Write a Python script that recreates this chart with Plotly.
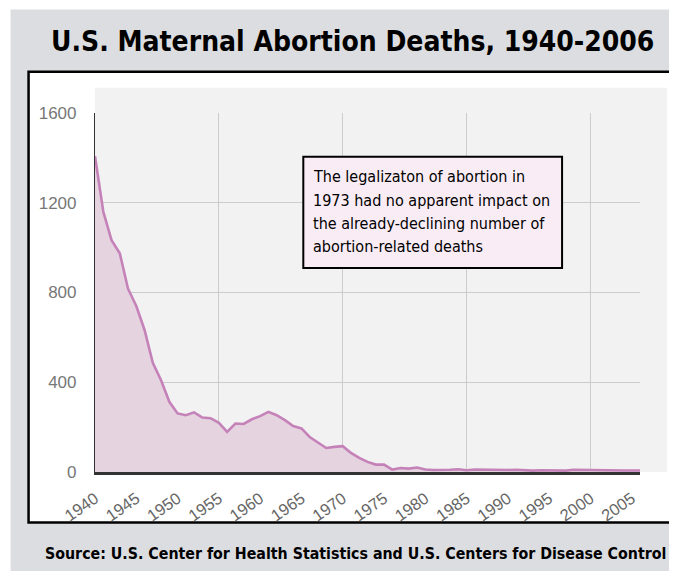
import plotly.graph_objects as go

years = list(range(1940, 2007))
deaths = [1407, 1161, 1033, 975, 817, 740, 633, 487, 409, 313,
          261, 253, 266, 243, 240, 219, 179, 216, 214, 235,
          249, 268, 253, 231, 205, 194, 156, 131, 107, 112,
          115, 85, 63, 45, 33, 33, 11, 18, 15, 20,
          11, 9, 8, 10, 12, 8, 11, 10, 9, 10,
          9, 10, 7, 6, 8, 7, 8, 6, 10, 9,
          9, 8, 9, 8, 7, 7, 7]
x_tick_years = list(range(1940, 2006, 5))
y_ticks = [0, 400, 800, 1200, 1600]

title_text = "U.S. Maternal Abortion Deaths, 1940-2006"
note_lines = ["The legalizaton of abortion in",
              "1973 had no apparent impact on",
              "the already-declining number of",
              "abortion-related deaths"]
source_text = "Source: U.S. Center for Health Statistics and U.S. Centers for Disease Control"

OFF = 8  # default page body margin
W, H = 677 - OFF, 571 - OFF
L, R = 94.5 - OFF, 640.0 - OFF
T, B = 113.3 - OFF, 471.7 - OFF


def px(x):
    return (x - OFF - L) / (R - L)


def py(y):
    return (B - (y - OFF)) / (B - T)


COND = "DejaVu Sans Condensed, Liberation Sans Narrow, Arial Narrow, sans-serif"
TICKF = "Liberation Sans, Arial, sans-serif"

fig = go.Figure()
fig.add_trace(go.Scatter(
    x=years, y=deaths, mode="lines",
    line=dict(color="#c582b9", width=2.6),
    fill="tozeroy", fillcolor="#e5d3e0",
    hoverinfo="x+y", showlegend=False,
))
# invisible trace on second axis for the 15-year grid
fig.add_trace(go.Scatter(x=[years[0], years[-1]], y=[0, 0], xaxis="x2",
                         mode="lines", line=dict(width=0), showlegend=False,
                         hoverinfo="skip"))

shapes = [
    dict(type="rect", xref="paper", yref="paper", x0=px(10), x1=px(690), y0=py(590), y1=py(10),
         fillcolor="#dcdde0", line=dict(width=0), layer="below"),
    dict(type="rect", xref="paper", yref="paper", x0=px(28), x1=px(676), y0=py(522), y1=py(72),
         fillcolor="white", line=dict(color="black", width=2.5), layer="below"),
    dict(type="rect", xref="paper", yref="paper", x0=px(94.5), x1=px(667), y0=py(471.7), y1=py(88),
         fillcolor="#f2f2f2", line=dict(width=0), layer="below"),
    dict(type="rect", xref="paper", yref="paper", x0=px(303), x1=px(562), y0=py(268), y1=py(157),
         fillcolor="#f9ecf5", line=dict(color="black", width=2), layer="above"),
]

annotations = [
    dict(text="<b>" + title_text + "</b>", xref="paper", yref="paper", x=px(352), y=py(42),
         xanchor="center", yanchor="middle", showarrow=False,
         font=dict(family=COND, size=28, color="black")),
    dict(text="<b>" + source_text + "</b>", xref="paper", yref="paper", x=px(355), y=py(553),
         xanchor="center", yanchor="middle", showarrow=False,
         font=dict(family=COND, size=15.8, color="black")),
]
for i, line in enumerate(note_lines):
    annotations.append(dict(text=line, xref="paper", yref="paper", x=px(311), y=py(177 + 23.3 * i),
                            xanchor="left", yanchor="middle", align="left", showarrow=False,
                            font=dict(family=COND, size=16, color="black")))

fig.update_layout(
    width=W, height=H,
    margin=dict(l=L, r=W - R, t=T, b=H - B, pad=0),
    paper_bgcolor="white", plot_bgcolor="rgba(0,0,0,0)",
    shapes=shapes, annotations=annotations,
    xaxis=dict(range=[1940, 2006], tickvals=x_tick_years, ticktext=[str(v) for v in x_tick_years],
               tickangle=-35, showgrid=False, zeroline=False,
               showline=True, linecolor="#333333", linewidth=2.5,
               ticks="outside", ticklen=8, tickcolor="rgba(0,0,0,0)",
               tickfont=dict(family=TICKF, size=16.5, color="#666666")),
    xaxis2=dict(range=[1940, 2006], overlaying="x", tick0=1940, dtick=15, showgrid=True,
                gridcolor="#cccccc", gridwidth=1, showticklabels=False, zeroline=False,
                showline=False),
    yaxis=dict(range=[0, 1600], tickvals=y_ticks, showgrid=True, gridcolor="#cccccc", gridwidth=1,
               zeroline=False, showline=True, linecolor="#333333", linewidth=1.2,
               ticks="outside", ticklen=14, tickcolor="rgba(0,0,0,0)",
               tickfont=dict(family=TICKF, size=17, color="#777777")),
)

fig.write_html("out.html")
